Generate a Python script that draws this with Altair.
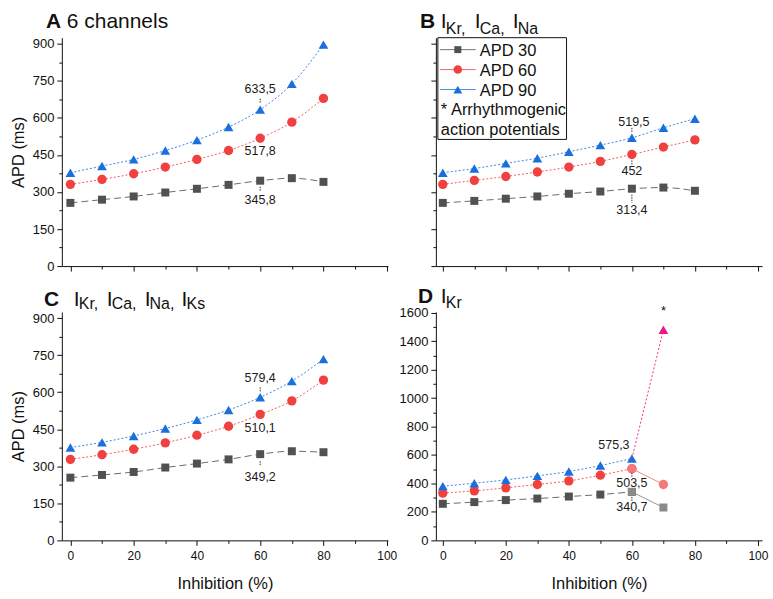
import altair as alt
import pandas as pd

# Inhibition levels (%)
inhibition = [0, 10, 20, 30, 40, 50, 60, 70, 80]
inhibition_kr = [0, 10, 20, 30, 40, 50, 60, 70]

# APD values (ms) per simulation
a_apd30 = [256, 269, 282, 298, 313, 329, 345.8, 356, 341]
a_apd60 = [331, 351, 374, 401, 432, 468, 517.8, 583, 679]
a_apd90 = [378, 405, 432, 468, 510, 563, 633.5, 738, 897]

b_apd30 = [256, 264, 273, 282, 293, 302, 313.4, 318, 305]
b_apd60 = [331, 347, 363, 381, 401, 424, 452, 482, 511]
b_apd90 = [378, 395, 416, 437, 463, 490, 519.5, 560, 597]

c_apd30 = [254, 265, 277, 295, 311, 328, 349.2, 361, 357]
c_apd60 = [328, 347, 369, 395, 426, 462, 510.1, 565, 649]
c_apd90 = [376, 397, 423, 453, 488, 528, 579.4, 645, 734]

d_apd30 = [257, 269, 283, 294, 308, 322, 340.7, 231]
d_apd60 = [332, 348, 369, 393, 418, 458, 503.5, 393]
d_apd90 = [381, 402, 425, 453, 484, 526, 575.3, 1480]

series_names = ["APD 30", "APD 60", "APD 90"]

FONT = "Liberation Sans"
GRAY = "#515151"
RED = "#F14040"
BLUE = "#1A6FDF"
PINK = "#F0148C"

STYLE = {
    "APD 30": dict(shape="square", color=GRAY, dash=[7, 4], size=64),
    "APD 60": dict(shape="circle", color=RED, dash=[2, 2], size=88),
    "APD 90": dict(shape="triangle-up", color=BLUE, dash=[2, 2], size=95),
}

W_LEFT, W_RIGHT, H = 327, 327, 229
TITLE_SIZE, SUB_SIZE = 21, 16


def fmt(v):
    return f"{v:g}".replace(".", ",")


def one_row():
    return pd.DataFrame({"k": [0]})


def encodings(xdom, ydom, ystep, ymajor, xlabels, ylabels, ytitle, xtitle):
    xaxis = alt.Axis(
        values=list(range(0, 101, 10)),
        labels=xlabels,
        format="d",
        labelExpr="datum.value % 20 === 0 ? datum.label : ''",
        tickSize={"condition": {"test": "datum.value % 20 === 0", "value": 5}, "value": 3},
        labelFontSize=12,
        labelPadding=5,
        title=xtitle if xtitle else "",
        titleY=43,
        titleBaseline="middle",
        titleFontSize=16.5,
        titleFontWeight="normal",
    )
    yaxis = alt.Axis(
        values=list(range(0, int(ydom[1]) + 1, ystep)),
        labels=ylabels,
        format="d",
        labelExpr=f"datum.value % {ymajor} === 0 ? datum.label : ''",
        tickSize={"condition": {"test": f"datum.value % {ymajor} === 0", "value": 5}, "value": 3},
        labelFontSize=13,
        labelPadding=3,
        title=ytitle if ytitle else "",
        titleX=-43,
        titleY=H / 2,
        titleBaseline="middle",
        titleFontSize=16.5,
        titleFontWeight="normal",
    )
    x = alt.X("x:Q", scale=alt.Scale(domain=xdom, nice=False, zero=False), axis=xaxis)
    y = alt.Y("v:Q", scale=alt.Scale(domain=ydom, nice=False), axis=yaxis)
    return x, y


def series_layers(xs, vals, name, x, y, color=None, dash=None, opacity=0.85, points=True, shape=None):
    st = STYLE[name]
    df = pd.DataFrame({"x": xs, "v": vals})
    base = alt.Chart(df).encode(x=x, y=y)
    layers = [
        base.mark_line(
            color=color or st["color"],
            strokeDash=dash if dash is not None else st["dash"],
            strokeWidth=1,
            interpolate="monotone",
            opacity=opacity,
        )
    ]
    if points:
        layers.append(
            base.mark_point(
                shape=shape or st["shape"], filled=True, opacity=1,
                color=color or st["color"], size=st["size"],
            )
        )
    return layers


def value_label(xv, val, x, y, dy, dx=0, leader=None):
    df = pd.DataFrame({"x": [xv], "v": [val], "t": [fmt(val)]})
    base = alt.Chart(df).encode(x=x, y=y)
    out = [
        base.mark_text(dy=dy, dx=dx, fontSize=12.5, font=FONT, color="#1a1a1a").encode(text="t:N")
    ]
    if leader is not None:
        out.append(
            base.mark_rule(
                yOffset=leader[0], y2Offset=leader[1], color="#333", strokeWidth=1, strokeDash=[1.5, 1]
            ).encode(y2="v:Q")
        )
    return out


def title_pieces(pieces):
    out = []
    for text, px, py, size, weight in pieces:
        out.append(
            alt.Chart(one_row())
            .mark_text(
                text=text, align="left", baseline="alphabetic", fontSize=size,
                fontWeight=weight, font=FONT, color="#111",
            )
            .encode(x=alt.value(px), y=alt.value(py))
        )
    return out


def sub_title(letter, parts, lx, ix_list, base_y, sub_y):
    pieces = [(letter, lx, base_y, TITLE_SIZE, "bold")]
    for (sub, ix) in zip(parts, ix_list):
        pieces.append(("I", ix, base_y, TITLE_SIZE, "normal"))
        pieces.append((sub, ix + 5, sub_y, SUB_SIZE, "normal"))
    return title_pieces(pieces)


# ---------- Panel A: all six channels ----------
xA, yA = encodings([-2.7, 100.4], [0, 925], 75, 150, False, True, "APD (ms)", None)
layers_a = []
for name, vals in zip(series_names, [a_apd30, a_apd60, a_apd90]):
    layers_a += series_layers(inhibition, vals, name, xA, yA)
layers_a += value_label(60, a_apd90[6], xA, yA, dy=-21, leader=(-11, -6))
layers_a += value_label(60, a_apd60[6], xA, yA, dy=13)
layers_a += value_label(60, a_apd30[6], xA, yA, dy=19, leader=(6, 11))
layers_a += title_pieces([("A", -16, -10, TITLE_SIZE, "bold"), ("6 channels", 5, -10, TITLE_SIZE, "normal")])
panel_a = alt.layer(*layers_a).properties(width=W_LEFT, height=H)

# ---------- Panel B: IKr, ICa, INa ----------
xB, yB = encodings([-2.2, 101.3], [0, 925], 75, 150, False, False, None, None)
layers_b = []
for name, vals in zip(series_names, [b_apd30, b_apd60, b_apd90]):
    layers_b += series_layers(inhibition, vals, name, xB, yB)
layers_b += value_label(60, b_apd90[6], xB, yB, dy=-16, dx=2, leader=(-10, -5))
layers_b += value_label(60, b_apd60[6], xB, yB, dy=17, leader=(6, 11))
layers_b += value_label(60, b_apd30[6], xB, yB, dy=21, leader=(6, 14))
layers_b += sub_title("B", ["Kr,", "Ca,", "Na"], -16, [5, 39, 77], -10, -4)

# legend box
layers_b.append(
    alt.Chart(one_row())
    .mark_rect(fill="white", stroke="#111", strokeWidth=1)
    .encode(x=alt.value(2), x2=alt.value(131), y=alt.value(0), y2=alt.value(102))
)
for i, name in enumerate(series_names):
    st = STYLE[name]
    ry = 12 + 20 * i
    layers_b.append(
        alt.Chart(one_row())
        .mark_rule(color=st["color"], strokeWidth=1, opacity=0.8)
        .encode(x=alt.value(4), x2=alt.value(40), y=alt.value(ry))
    )
    layers_b.append(
        alt.Chart(one_row())
        .mark_point(shape=st["shape"], filled=True, opacity=1, color=st["color"], size=st["size"] - 15)
        .encode(x=alt.value(22), y=alt.value(ry))
    )
    layers_b.append(
        alt.Chart(one_row())
        .mark_text(text=name, align="left", baseline="middle", fontSize=16.5, font=FONT, color="#111")
        .encode(x=alt.value(44), y=alt.value(ry + 1))
    )
for j, line in enumerate(["* Arrhythmogenic", "action potentials"]):
    layers_b.append(
        alt.Chart(one_row())
        .mark_text(text=line, align="left", baseline="middle", fontSize=16.5, font=FONT, color="#111")
        .encode(x=alt.value(5), y=alt.value(73 + 20 * j))
    )
panel_b = alt.layer(*layers_b).properties(width=W_RIGHT, height=H)

# ---------- Panel C: IKr, ICa, INa, IKs ----------
xC, yC = encodings([-2.7, 100.4], [0, 925], 75, 150, True, True, "APD (ms)", "Inhibition (%)")
layers_c = []
for name, vals in zip(series_names, [c_apd30, c_apd60, c_apd90]):
    layers_c += series_layers(inhibition, vals, name, xC, yC)
layers_c += value_label(60, c_apd90[6], xC, yC, dy=-19, leader=(-10, -6))
layers_c += value_label(60, c_apd60[6], xC, yC, dy=14)
layers_c += value_label(60, c_apd30[6], xC, yC, dy=23, leader=(7, 11))
layers_c += sub_title("C", ["Kr,", "Ca,", "Na,", "Ks"], -18, [12, 45, 83, 120], -6, -3)
panel_c = alt.layer(*layers_c).properties(width=W_LEFT, height=H)

# ---------- Panel D: IKr only ----------
xD, yD = encodings([-2.2, 101.3], [0, 1605], 100, 200, True, True, None, "Inhibition (%)")
layers_d = []
# 0-60 % with the usual styles
for name, vals in zip(series_names, [d_apd30, d_apd60, d_apd90]):
    layers_d += series_layers(inhibition_kr[:7], vals[:7], name, xD, yD)
# 60-70 % continuation
layers_d += series_layers(inhibition_kr[6:], d_apd30[6:], "APD 30", xD, yD, color="#8a8a8a", dash=[], opacity=0.9)
layers_d += series_layers(inhibition_kr[6:], d_apd60[6:], "APD 60", xD, yD, color="#F47A7A", dash=[], opacity=0.9)
layers_d += series_layers(inhibition_kr[6:], d_apd90[6:], "APD 90", xD, yD, color=PINK, dash=[2, 2],
                          opacity=0.9, points=False)
# arrhythmogenic point at 70 %
df_arr = pd.DataFrame({"x": [inhibition_kr[7]], "v": [d_apd90[7]], "t": ["*"]})
layers_d.append(
    alt.Chart(df_arr).mark_point(shape="triangle-up", filled=True, opacity=1, color=PINK, size=95)
    .encode(x=xD, y=yD)
)
layers_d.append(
    alt.Chart(df_arr).mark_text(dy=-19, fontSize=13, font=FONT, color="#111")
    .encode(x=xD, y=yD, text="t:N")
)
layers_d += value_label(60, d_apd90[6], xD, yD, dy=-14, dx=-18)
layers_d += value_label(60, d_apd60[6], xD, yD, dy=14, leader=(4, 8))
layers_d += value_label(60, d_apd30[6], xD, yD, dy=15, leader=(5, 9))
layers_d += sub_title("D", ["Kr"], -18, [5], -9, -4)
panel_d = alt.layer(*layers_d).properties(width=W_RIGHT, height=H)

chart = (
    alt.concat(
        panel_a, panel_b, panel_c, panel_d,
        columns=2,
        spacing={"row": 46, "column": 48},
        bounds="flush",
    )
    .properties(padding={"left": 11, "top": 10, "right": 5, "bottom": 5}, background="white")
    .configure_view(stroke=None)
    .configure_axis(
        grid=False,
        domainColor="#111",
        domainWidth=1,
        tickColor="#111",
        tickWidth=1,
        labelColor="#111",
        titleColor="#111",
        labelFont=FONT,
        titleFont=FONT,
    )
)

chart.save("out.html", embed_options={"renderer": "svg", "actions": False})
